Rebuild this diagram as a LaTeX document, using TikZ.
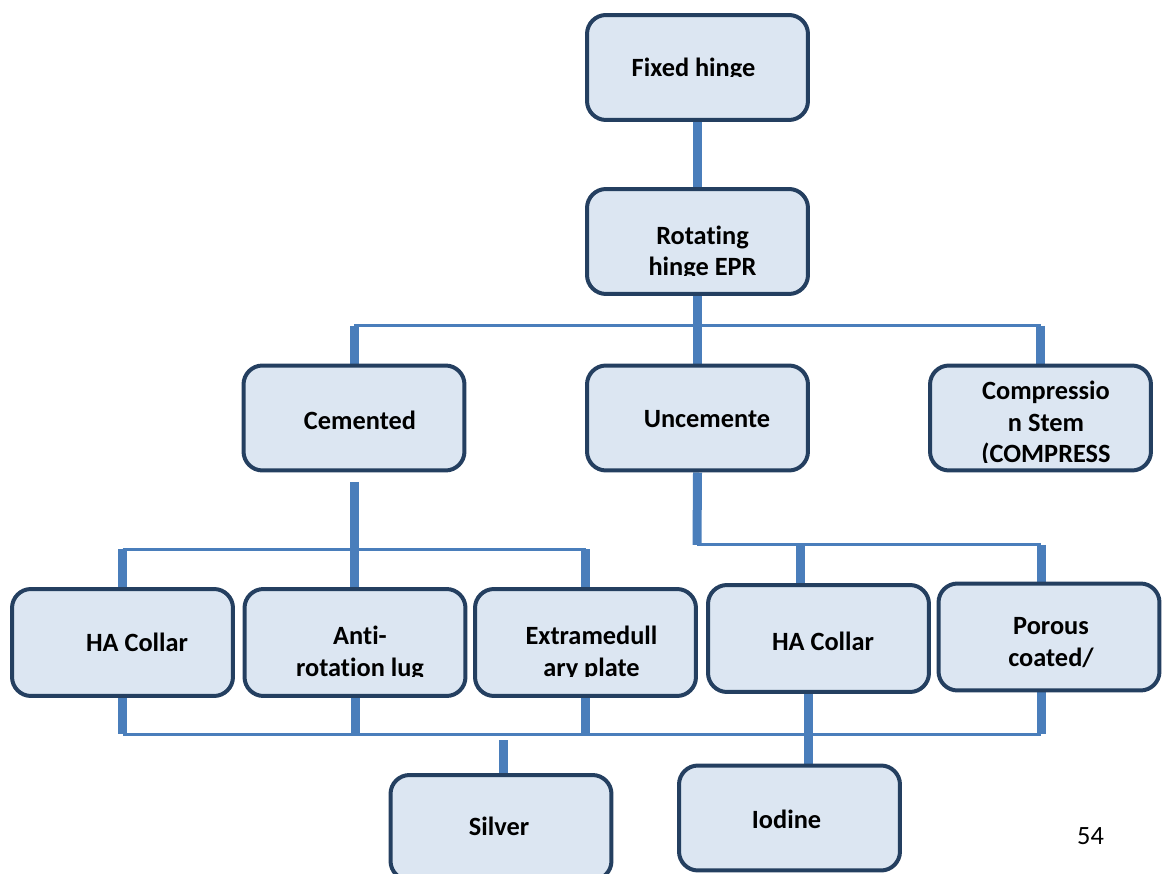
\documentclass[tikz,border=0pt]{standalone}
\usepackage{fontspec}
\setmainfont{Carlito}[Ligatures={NoCommon}]
\usetikzlibrary{backgrounds}
\definecolor{boxfill}{HTML}{DCE6F2}
\definecolor{boxline}{HTML}{243F60}
\definecolor{linkblue}{HTML}{4A7EBB}

\begin{document}
\begin{tikzpicture}[x=0.02cm,y=-0.02cm,
  box node/.style={rectangle,rounded corners=0.38cm,draw=boxline,fill=boxfill,
    line width=0.08cm,minimum width=4.42cm,minimum height=2.1cm,inner sep=0pt},
  box text/.style={font=\bfseries\fontsize{15}{18}\selectfont,align=center,
    anchor=base,inner sep=0pt},
  thick link/.style={draw=linkblue,line width=0.18cm},
  thin link/.style={draw=linkblue,line width=0.06cm}]

  \useasboundingbox (0,0) rectangle (1163,874);

  % boxes
  \node[box node] (fixed) at (697.5,67.5) {};
  \node[box node] (rot) at (697.5,241.5) {};
  \node[box node] (cem) at (354,418) {};
  \node[box node] (unc) at (697.5,418) {};
  \node[box node] (comp) at (1040.5,418) {};
  \node[box node,minimum height=2.14cm] (ha1) at (122.5,642.5) {};
  \node[box node,minimum height=2.14cm] (anti) at (355,642.5) {};
  \node[box node,minimum height=2.14cm] (extra) at (585.5,642.5) {};
  \node[box node,minimum height=2.14cm] (ha2) at (818.5,638.5) {};
  \node[box node,minimum height=2.14cm] (por) at (1049,637) {};
  \node[box node] (silver) at (501,827.5) {};
  \node[box node] (iodine) at (789.5,818) {};

  % connectors
  \begin{scope}[on background layer]
    \coordinate (top bus) at (697,326);
    \coordinate (cem gap) at (354,482);
    \coordinate (cem bus) at (354,549.5);
    \coordinate (unc bus) at (697,545);
    \coordinate (ha2 top) at (800,545);
    \coordinate (por top) at (1041,545);
    \coordinate (low bus) at (122.5,734);
    \coordinate (por low) at (1041,734);
    \coordinate (ha2 low) at (808,700);
    \coordinate (silver top) at (503,740);

    \draw[thick link] (fixed.south) -- (rot.north);
    \draw[thick link] (rot.south) -- (unc.north);
    \draw[thin link] (cem.north |- top bus) -- (comp.north |- top bus);
    \draw[thick link] (cem.north |- top bus) -- (cem.north);
    \draw[thick link] (comp.north |- top bus) -- (comp.north);

    \draw[thick link] (cem gap) -- (cem gap |- anti.north);
    \draw[thin link] (ha1.north |- cem bus) -- (extra.north |- cem bus);
    \draw[thick link] (ha1.north |- cem bus) -- (ha1.north);
    \draw[thick link] (extra.north |- cem bus) -- (extra.north);

    \draw[thick link] (unc.south) -- (unc bus);
    \draw[thin link] (unc bus) -- (por top);
    \draw[thick link] (ha2 top) -- (ha2 top |- ha2.north);
    \draw[thick link] (por top) -- (por top |- por.north);

    \draw[thick link] (ha1.south) -- (ha1.south |- low bus);
    \draw[thick link] (anti.south) -- (anti.south |- low bus);
    \draw[thick link] (extra.south) -- (extra.south |- low bus);
    \draw[thin link] (low bus) -- (por low);
    \draw[thick link] (por low |- por.south) -- (por low);
    \draw[thick link] (ha2 low |- ha2.south) -- (ha2 low |- iodine.north);
    \draw[thick link] (silver top) -- (silver top |- silver.north);
  \end{scope}

  % texts
  \begin{scope}
    \clip (585,13) rectangle (810,77);
    \node[box text] (fixed-t) at (693.5,77) {Fixed hinge};
  \end{scope}
  \begin{scope}
    \clip (585,188) rectangle (810,276);
    \node[box text] (rot-t) at (702.5,276) {Rotating\\hinge EPR};
  \end{scope}
  \node[box text] (cem-t) at (360,430) {Cemented};
  \node[box text] (unc-t) at (707,428) {Uncemente};
  \begin{scope}
    \clip (928,364) rectangle (1153,463);
    \node[box text] (comp-t) at (1046,463) {Compressio\\n Stem\\(COMPRESS};
  \end{scope}
  \node[box text] (ha1-t) at (137,651) {HA Collar};
  \begin{scope}
    \clip (242,587) rectangle (468,676);
    \node[box text] (anti-t) at (360,676) {Anti-\\rotation lug};
  \end{scope}
  \begin{scope}
    \clip (473,587) rectangle (698,676);
    \node[box text] (extra-t) at (591.5,676) {Extramedull\\ary plate};
  \end{scope}
  \node[box text] (ha2-t) at (823,650) {HA Collar};
  \node[box text] (por-t) at (1051,666) {Porous\\coated/};
  \node[box text] (silver-t) at (499,835) {Silver};
  \node[box text] (iodine-t) at (786.5,828) {Iodine};
  \node[box text,font=\fontsize{15}{18}\selectfont] (page) at (1090.5,844) {54};
\end{tikzpicture}
\end{document}
